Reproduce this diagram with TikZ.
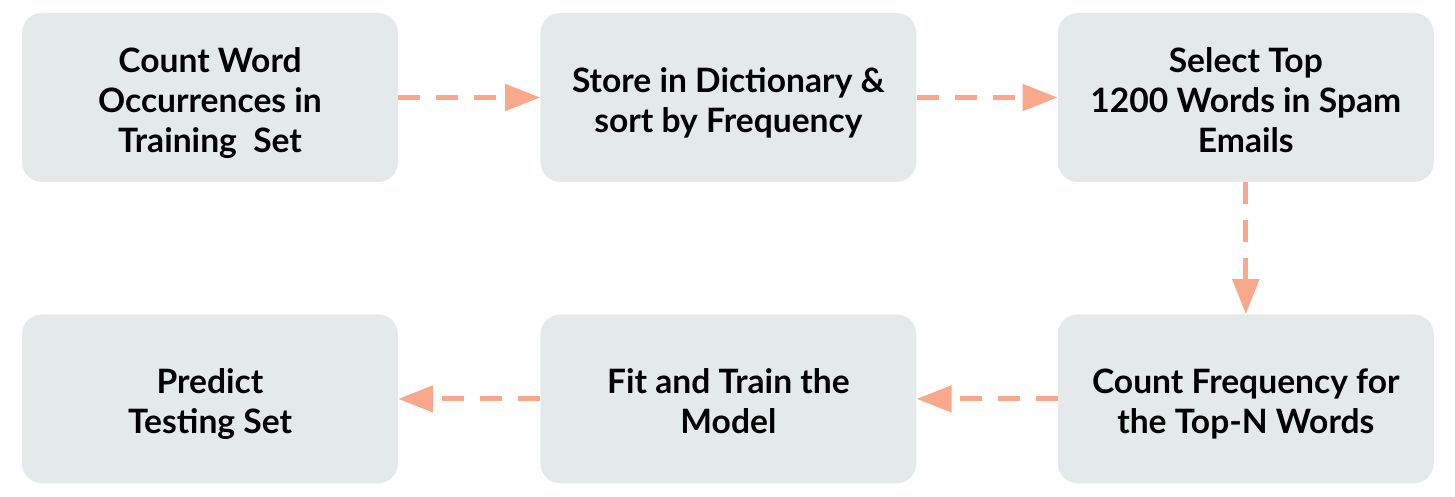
\documentclass[tikz,border=0pt]{standalone}
\usepackage{fontspec}
\setmainfont{Lato}
\usetikzlibrary{arrows.meta,positioning}
\definecolor{boxgray}{HTML}{E4EAEA}
\definecolor{salmon}{HTML}{F9A88C}
% lines of a box, set a little low
\newcommand{\boxlines}[1]{\raisebox{0pt}[\dimexpr\height+14pt\relax][\depth]{\begin{tabular}{@{}c@{}}#1\end{tabular}}}

\begin{document}
\begin{tikzpicture}[x=1pt,y=1pt,node distance=132pt and 142pt,
                    step box/.style={rectangle,rounded corners=20pt,fill=boxgray,
                      minimum width=376pt,minimum height=169pt,inner sep=0pt,
                      font=\fontsize{33.6}{40}\selectfont\bfseries},
                    flow/.style={draw=salmon,line width=5pt,dash pattern=on 22pt off 16pt,
                      -{Triangle[length=35pt,width=26pt,fill=salmon]}}]

  \useasboundingbox (0,0) rectangle (1455,496);
  \node[step box] at (210,398.5) (count){\boxlines{Count Word\\Occurrences in\\Training\ \ Set}};
  \node[step box] [right = of count] (store){\boxlines{Store in Dictionary \&\\sort by Frequency}};
  \node[step box] [right = 141pt of store] (select){\boxlines{Select Top\\1200 Words in Spam\\Emails}};
  \node[step box] [below = of select] (countfreq){\boxlines{Count Frequency for\\the Top-N Words}};
  \node[step box] [left = 141pt of countfreq] (fit){\boxlines{Fit and Train the\\Model}};
  \node[step box] [left = of fit] (predict){\boxlines{Predict\\Testing Set}};

\draw[flow] (count) -- (store);
\draw[flow] (store) -- (select);
\draw[flow] (select) -- (countfreq);
\draw[flow] (countfreq) -- (fit);
\draw[flow] (fit) -- (predict);

\end{tikzpicture}
\end{document}
